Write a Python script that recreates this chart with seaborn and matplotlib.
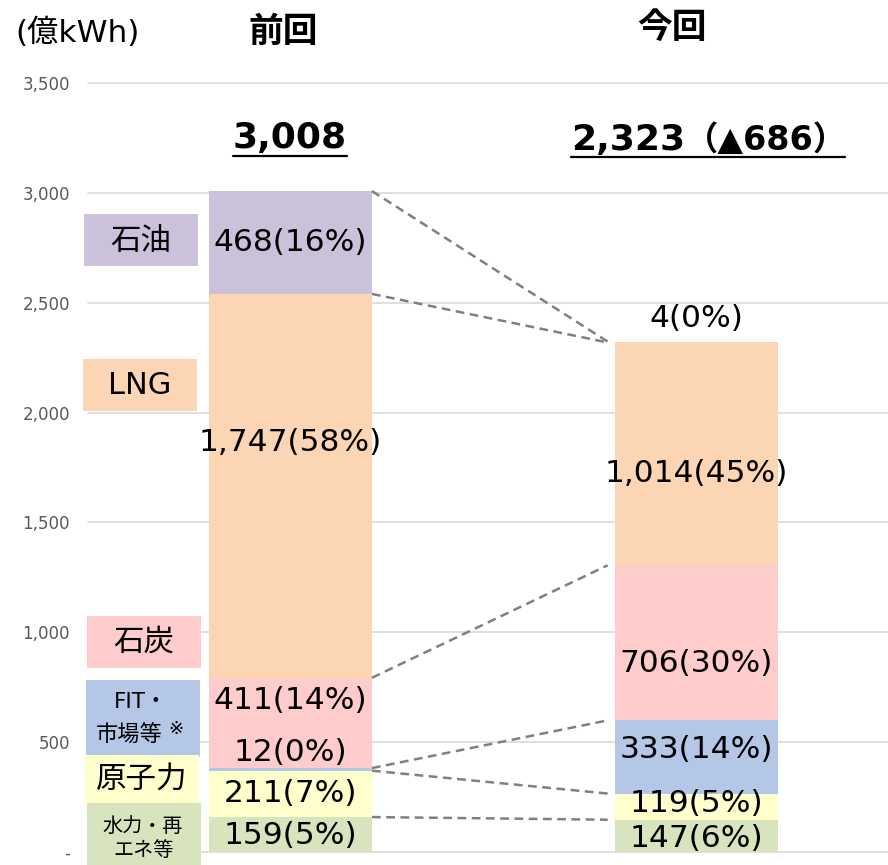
import seaborn as sns
import matplotlib.pyplot as plt
from matplotlib.patches import Rectangle
from matplotlib.lines import Line2D
from matplotlib.ticker import FuncFormatter

# data, segments listed top to bottom
periods = ["前回", "今回"]
sources = ["石油", "LNG", "石炭", "FIT・市場等", "原子力", "水力・再エネ等"]
prev_values = [468, 1747, 411, 12, 211, 159]
curr_values = [4, 1014, 706, 333, 119, 147]
prev_pct = [16, 58, 14, 0, 7, 5]
curr_pct = [0, 45, 30, 14, 5, 6]
totals = [3008, 2323]
change_text = "▲686"
colors = ["#CCC1DA", "#FCD5B5", "#FFCCCC", "#B4C7E7", "#FFFFCC", "#D7E4BD"]

W, H = 888, 865
BAR_W = 0.402

sns.set_theme(style="white")
plt.rcParams["font.family"] = ["DejaVu Sans", "Noto Sans CJK JP"]
plt.rcParams["text.color"] = "black"

fig = plt.figure(figsize=(W / 100, H / 100), dpi=100)
ax = fig.add_axes([88 / W, 13 / H, 800 / W, (852 - 83) / H])


def cum_tops(vals):
    return [sum(vals[i:]) for i in range(len(vals))]


prev_tops = cum_tops(prev_values)
curr_tops = cum_tops(curr_values)

# overlapping cumulative bars, tallest first
for i, src in enumerate(sources):
    sns.barplot(
        x=periods,
        y=[prev_tops[i], curr_tops[i]],
        order=periods,
        color=colors[i],
        saturation=1,
        width=BAR_W,
        errorbar=None,
        linewidth=0,
        ax=ax,
        zorder=2,
    )

ax.set_xlim(-0.499, 1.473)
ax.set_ylim(0, 3500)
ax.set_xticks([])
ax.set_xlabel("")
ax.set_ylabel("")
ax.set_yticks(range(0, 3501, 500))
ax.yaxis.set_major_formatter(FuncFormatter(lambda v, p: "-" if v == 0 else f"{v:,.0f}"))
ax.tick_params(axis="y", length=0, pad=13, labelsize=12, labelcolor="#595959")
ax.set_axisbelow(True)
ax.yaxis.grid(True, color="#D9D9D9", linewidth=1.2)
for gl in ax.get_ygridlines():
    gl.set_clip_on(False)
sns.despine(ax=ax, left=True, bottom=True)

# connector lines between segment tops
for i in range(len(sources)):
    ax.plot([BAR_W / 2, 1 - BAR_W / 2 - 0.017], [prev_tops[i], curr_tops[i]],
            color="#808080", lw=1.8, linestyle=(0, (3.5, 2.2)), zorder=3)

# value labels (shifts in data units to match the original placement)
prev_shift = [0, 198, 104, 79, 0, -6]
curr_shift = [106, -89, -93, 32, 16, -10]
for xi, vals, pcts, tops, shifts in [
    (0, prev_values, prev_pct, prev_tops, prev_shift),
    (1, curr_values, curr_pct, curr_tops, curr_shift),
]:
    for v, p, t, s in zip(vals, pcts, tops, shifts):
        ax.text(xi, t - v / 2 + s, f"{v:,}({p}%)", ha="center", va="center",
                fontsize=22.5, color="black", zorder=4)

# header texts
fig.text(78 / W, 1 - 33 / H, "(億kWh)", ha="center", va="center", fontsize=22.5)
fig.text(283 / W, 1 - 32 / H, periods[0], ha="center", va="center",
         fontsize=25, fontweight="bold")
fig.text(672 / W, 1 - 28 / H, periods[1], ha="center", va="center",
         fontsize=25, fontweight="bold")
t1 = fig.text(290 / W, 1 - 138 / H, f"{totals[0]:,}", ha="center", va="center",
              fontsize=26, fontweight="bold")
t2 = fig.text(571 / W, 1 - 140 / H, f"{totals[1]:,}", ha="left",
              va="center", fontsize=26, fontweight="bold")
fig.canvas.draw()
renderer = fig.canvas.get_renderer()
bb2 = t2.get_window_extent(renderer)
t3 = fig.text(bb2.x1 / W, 1 - 140 / H, f"（{change_text}）", ha="left", va="center",
              fontsize=24, fontweight="bold")

fig.canvas.draw()
for t, x_end, uy in [(t1, None, 156), (t2, 845, 157)]:
    bb = t.get_window_extent(renderer)
    x1 = bb.x1 if x_end is None else x_end
    fig.add_artist(Line2D([bb.x0 / W, x1 / W], [1 - uy / H, 1 - uy / H],
                          color="black", lw=1.6, transform=fig.transFigure))

# category boxes on the left
boxes = [
    (84, 214, 198, 266),
    (83, 359, 197, 411),
    (87, 616, 201, 668),
    (86, 680, 200, 757),
    (85, 755, 199, 805),
    (87, 803, 201, 865),
]
for (x0, y0, x1, y1), c in zip(boxes, colors):
    fig.add_artist(Rectangle((x0 / W, 1 - y1 / H), (x1 - x0) / W, (y1 - y0) / H,
                             transform=fig.transFigure, facecolor=c,
                             edgecolor="none", zorder=5))


def ftext(x, y, s, size, **kw):
    fig.text(x / W, 1 - y / H, s, ha="center", va="center", fontsize=size,
             zorder=6, **kw)


ftext(141, 242, "石油", 22)
ftext(140, 386, "LNG", 22)
ftext(144, 642, "石炭", 22)
ftext(141, 702, "FIT・", 15.5)
ftext(129, 735, "市場等", 16)
ftext(176, 729, "※", 13)
ftext(142, 779, "原子力", 22)
ftext(143, 826, "水力・再", 14.5)
ftext(144, 851, "エネ等", 14.5)

fig.savefig("out.png", dpi=100)
